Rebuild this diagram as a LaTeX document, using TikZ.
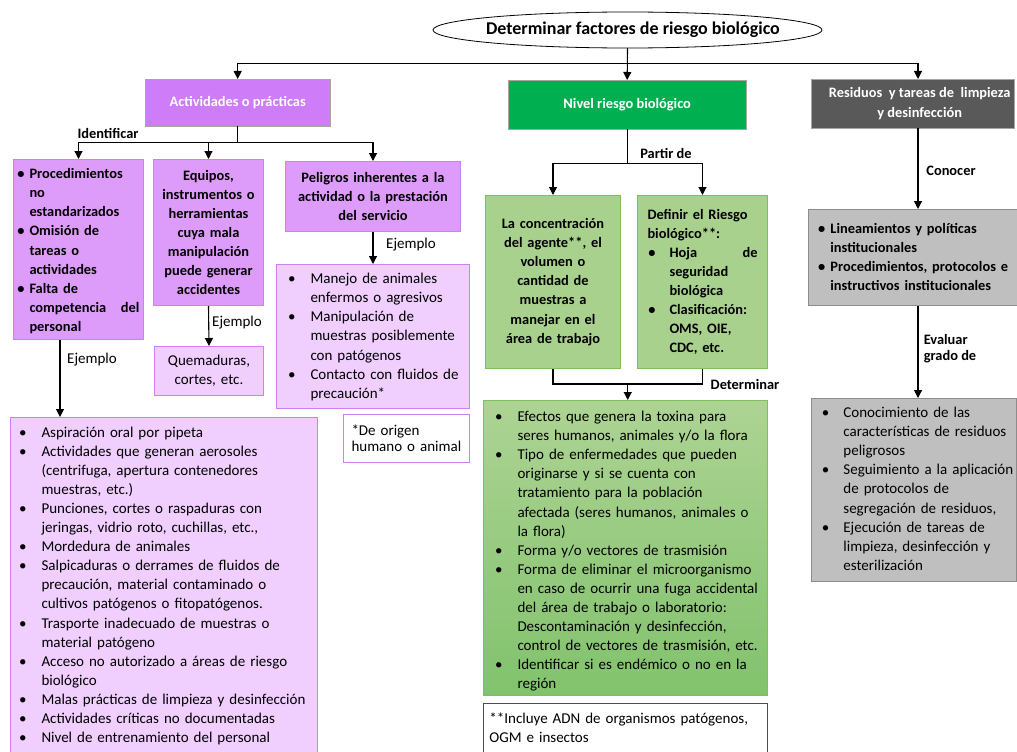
\documentclass[tikz,border=0pt]{standalone}
\usepackage{fontspec}
\setmainfont{Carlito}
\usepackage{enumitem}
\usetikzlibrary{arrows.meta,shapes.geometric,calc}

\definecolor{vhead}{HTML}{CF7CF9}
\definecolor{vmid}{HTML}{DE9CFA}
\definecolor{vlight}{HTML}{F0CEFD}
\definecolor{vline}{HTML}{CC80F2}
\definecolor{ghead}{HTML}{00B050}
\definecolor{gfill}{HTML}{A9D18E}
\definecolor{gline}{HTML}{7FBF5A}
\definecolor{dhead}{HTML}{595959}
\definecolor{rfill}{HTML}{BFBFBF}
\definecolor{rline}{HTML}{8C8C8C}

\setlist[itemize]{nosep,label=\textbullet}
% empty strut line below a list, to lift the text in its box
\newcommand{\lift}[1]{\par\nointerlineskip\rule{0pt}{#1}}

\tikzset{
  reg/.style={font=\fontsize{15}{19.1}\selectfont},
  bld/.style={font=\fontsize{14.4}{19.1}\selectfont\bfseries},
  box/.style={rectangle, anchor=north west, inner sep=0pt},
  headbox/.style={box, draw=gray!70, text=white, align=center,
    font=\fontsize{14.4}{19.3}\selectfont\bfseries},
  midbox/.style={box, bld, fill=vmid, draw=vline, line width=1pt},
  lightbox/.style={box, reg, fill=vlight, draw=vline, line width=1pt},
  greenbox/.style={box, fill=gfill, draw=gline, line width=1pt},
  graybox/.style={box, fill=rfill, draw=rline, line width=0.8pt},
  lbl/.style={reg, inner sep=0pt},
  blbl/.style={bld, inner sep=0pt},
  arr/.style={line width=1.1pt, -{Triangle[width=8pt,length=8pt]}},
  lin/.style={line width=1.1pt}
}

\begin{document}
\begin{tikzpicture}[x=1pt, y=-1pt]
    \useasboundingbox[fill=white] (0,0) rectangle (1017,752);

    % Draw the title ellipse
    \node[ellipse, draw, line width=0.8pt, minimum width=389, minimum height=36, inner sep=0pt,
      font=\fontsize{18}{20}\selectfont\bfseries] (title) at (627.5,30)
      {\makebox[0pt]{\hspace{11pt}Determinar factores de riesgo biológico}};

    % Draw the three main boxes
    \node[headbox, fill=vhead, minimum width=185, minimum height=47] (act) at (145,79)
      {Actividades o prácticas};
    \node[headbox, fill=ghead, minimum width=238, minimum height=49] (niv) at (508,80)
      {Nivel riesgo biológico};
    \node[headbox, fill=dhead, minimum width=203, minimum height=49] (res) at (811,79)
      {\hspace*{14pt}Residuos \ y tareas de \ limpieza\\\hspace*{14pt}y desinfección};

    % Draw the boxes under "Actividades o prácticas"
    \node[midbox, minimum width=130, minimum height=178, text width=122, align=left] (proc) at (13,159) {%
      \begin{itemize}[leftmargin=12pt,labelsep=5pt]
        \item Procedimientos\\no\\estandarizados
        \item Omisión de\\tareas o\\actividades
        \item Falta de\\competencia \hfill del\\personal
      \end{itemize}\lift{6pt}};
    \node[midbox, minimum width=110, minimum height=146, text width=102, align=center] (equi) at (153,159)
      {Equipos,\\instrumentos o\\herramientas\\cuya mala\\manipulación\\puede generar\\accidentes};
    \node[midbox, minimum width=175, minimum height=70, text width=165, align=center] (peli) at (285,161)
      {Peligros inherentes a la\\actividad o la prestación\\del servicio};

    \node[lightbox, minimum width=307, minimum height=340, text width=295, align=left] (ejproc) at (10,417) {%
      \begin{itemize}[leftmargin=25pt,labelsep=15pt]
        \item Aspiración oral por pipeta
        \item Actividades que generan aerosoles\\(centrifuga, apertura contenedores\\muestras, etc.)
        \item Punciones, cortes o raspaduras con\\jeringas, vidrio roto, cuchillas, etc.,
        \item Mordedura de animales
        \item Salpicaduras o derrames de fluidos de\\precaución, material contaminado o\\cultivos patógenos o fitopatógenos.
        \item Trasporte inadecuado de muestras o\\material patógeno
        \item Acceso no autorizado a áreas de riesgo\\biológico
        \item Malas prácticas de limpieza y desinfección
        \item Actividades críticas no documentadas
        \item Nivel de entrenamiento del personal
      \end{itemize}\lift{12pt}};
    \node[lightbox, minimum width=109, minimum height=49, text width=101, align=center] (ejequi) at (154,346)
      {Quemaduras,\\cortes, etc.};
    \node[lightbox, minimum width=193, minimum height=144, text width=185, align=left] (ejpeli) at (276,264) {%
      \begin{itemize}[leftmargin=30pt,labelsep=15pt]
        \item Manejo de animales\\enfermos o agresivos
        \item Manipulación de\\muestras posiblemente\\con patógenos
        \item Contacto con fluidos de\\precaución*
      \end{itemize}\lift{8pt}};
    \node[box, reg, fill=white, draw=vline, line width=1pt, minimum width=126, minimum height=48,
      text width=110, align=left, font=\fontsize{15}{16}\selectfont] (nota1) at (343,414)
      {*De origen\\humano o animal};

    % Draw the boxes under "Nivel riesgo biológico"
    \node[greenbox, bld, minimum width=135, minimum height=173, text width=125, align=center] (conc) at (485,195)
      {La concentración\\del agente**, el\\volumen o\\cantidad de\\muestras a\\manejar en el\\área de trabajo};
    \node[greenbox, bld, minimum width=130, minimum height=173, text width=110, align=left] (defi) at (637,195) {%
      Definir el Riesgo\\biológico**:
      \begin{itemize}[leftmargin=22pt,labelsep=14pt]
        \item Hoja \hfill de\\seguridad\\biológica
        \item Clasificación:\\OMS, OIE,\\CDC, etc.
      \end{itemize}};
    \node[box, reg, draw=gline, line width=1pt, top color=gfill!95!white, bottom color=gfill!85!green!90!black,
      minimum width=284, minimum height=295, text width=274, align=left] (efec) at (483,400) {%
      \begin{itemize}[leftmargin=29pt,labelsep=15pt]
        \item Efectos que genera la toxina para\\seres humanos, animales y/o la flora
        \item Tipo de enfermedades que pueden\\originarse y si se cuenta con\\tratamiento para la población\\afectada (seres humanos, animales o\\la flora)
        \item Forma y/o vectores de trasmisión
        \item Forma de eliminar el microorganismo\\en caso de ocurrir una fuga accidental\\del área de trabajo o laboratorio:\\Descontaminación y desinfección,\\control de vectores de trasmisión, etc.
        \item Identificar si es endémico o no en la\\región
      \end{itemize}\lift{2pt}};
    \node[box, reg, fill=white, draw=black!70, line width=0.8pt, minimum width=284, minimum height=49,
      text width=272, align=left] (nota2) at (483,703)
      {**Incluye ADN de organismos patógenos,\\OGM e insectos};

    % Draw the boxes under "Residuos y tareas de limpieza y desinfección"
    \node[graybox, bld, minimum width=230, minimum height=96, text width=216, align=left] (line) at (808,209) {%
      \begin{itemize}[leftmargin=15pt,labelsep=5pt]
        \item Lineamientos y políticas\\institucionales
        \item Procedimientos, protocolos e\\instructivos institucionales
      \end{itemize}\lift{10pt}};
    \node[graybox, reg, minimum width=205, minimum height=183, text width=199, align=left] (cono) at (811,398) {%
      \begin{itemize}[leftmargin=29pt,labelsep=14pt]
        \item Conocimiento de las\\características de residuos\\peligrosos
        \item Seguimiento a la aplicación\\de protocolos de\\segregación de residuos,
        \item Ejecución de tareas de\\limpieza, desinfección y\\esterilización
      \end{itemize}\lift{11pt}};

    % Column coordinates for the straight arrows
    \coordinate (cproc) at (60,0);
    \coordinate (cres) at (918,0);

    % Draw the connectors
    \draw[arr] (title.south) -- ++(0,15) -| (act.north);
    \draw[arr] (title.south) -- (niv.north);
    \draw[arr] (title.south) -- ++(0,15) -| (res.north -| cres);

    \draw[arr] (act.south) -- ++(0,16) -| (proc.north);
    \draw[arr] (act.south) -- ++(0,16) -| (equi.north);
    \draw[arr] (act.south) -- ++(0,16) -| (peli.north);
    \draw[arr] (proc.south -| cproc) -- (ejproc.north -| cproc);
    \draw[arr] (equi.south) -- (ejequi.north);
    \draw[arr] (peli.south) -- (ejpeli.north);

    \draw[arr] (niv.south) -- ++(0,34) -| (conc.north);
    \draw[arr] (niv.south) -- ++(0,34) -| (defi.north);
    \draw[lin] (conc.south) -- ++(0,15) -| (defi.south);
    \coordinate (gj) at ($(conc.south)!0.5!(defi.south)+(0,15)$);
    \draw[arr] (gj) -- (gj |- efec.north);

    \draw[arr] (res.south -| cres) -- (line.north -| cres);
    \draw[arr] (line.south -| cres) -- (cono.north -| cres);

    % Draw the connector labels
    \node[blbl] (lidt) at (108,133) {Identificar};
    \node[lbl] (lej1) at (92,360) {Ejemplo};
    \node[lbl] (lej2) at (237,323) {Ejemplo};
    \node[lbl] (lej3) at (411,245) {Ejemplo};
    \node[blbl] (lpar) at (666,153) {Partir de};
    \node[blbl] (ldet) at (745,384) {Determinar};
    \node[blbl] (lcon) at (951,171) {Conocer};
    \node[blbl, align=left, font=\fontsize{14.4}{16}\selectfont\bfseries] (leva) at (950,349) {Evaluar\\grado de};
\end{tikzpicture}
\end{document}
